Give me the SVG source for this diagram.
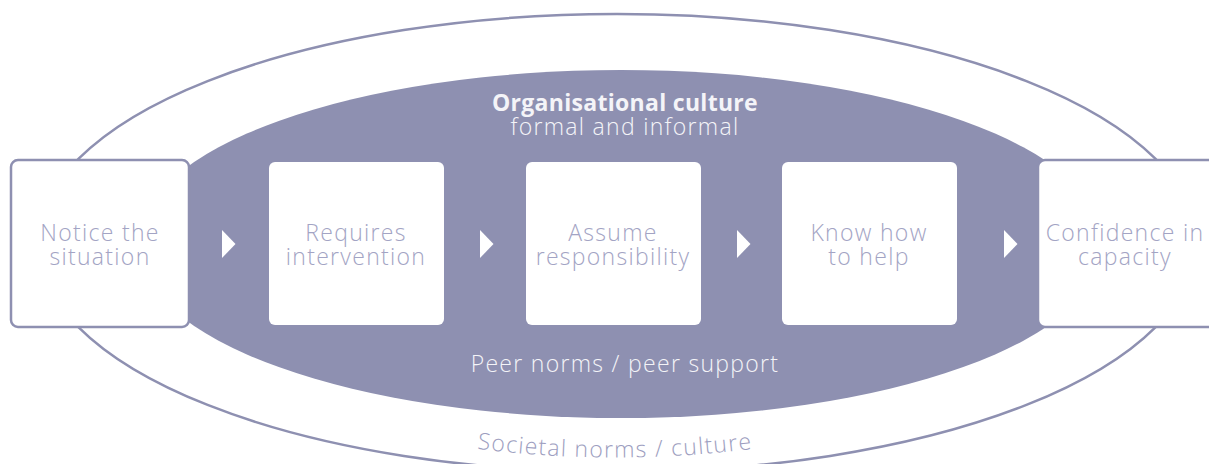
<svg xmlns="http://www.w3.org/2000/svg" width="1209" height="464" viewBox="0 0 1209 464">
  <style>
    .lbl { font-family: "Open Sans", Lato, "Liberation Sans", sans-serif; font-weight: 300; font-size: 23px; fill: #a3a4c4; text-anchor: middle; letter-spacing: 1.3px; }
    .wht { font-family: "Open Sans", Lato, "Liberation Sans", sans-serif; font-size: 23px; fill: #f4f4f8; text-anchor: middle; }
    .light { font-weight: 300; letter-spacing: 1.3px; }
    .bold { font-weight: 700; letter-spacing: 0.3px; }
    .soc { font-family: "Open Sans", Lato, "Liberation Sans", sans-serif; font-weight: 300; font-size: 23px; fill: #9d9ec0; letter-spacing: 1.3px; }
    .boxw { fill: #ffffff; }
    .boxs { fill: #ffffff; stroke: #8e90b1; stroke-width: 2.5; }
    .tri { fill: #ffffff; }
  </style>
  <defs>
    <path id="socArc" d="M 420 440 A 1093 1093 0 0 0 810 440"/>
  </defs>
  <rect width="1209" height="464" fill="#ffffff"/>
  <g id="societal">
    <ellipse cx="617" cy="243" rx="579" ry="229" fill="none" stroke="#8e90b1" stroke-width="2.5"/>
    <text class="soc"><textPath href="#socArc" startOffset="50%" text-anchor="middle">Societal norms / culture</textPath></text>
  </g>
  <g id="organisational">
    <ellipse cx="621" cy="244" rx="484" ry="174" fill="#8e90b1"/>
    <text class="wht" x="625" y="111"><tspan class="bold" x="625" y="111">Organisational culture</tspan><tspan class="light" x="625" y="135">formal and informal</tspan></text>
    <text class="wht light" x="625" y="372">Peer norms / peer support</text>
  </g>
  <g id="connectors">
    <polygon class="tri" points="222,230 235.5,244 222,258"/>
    <polygon class="tri" points="480,230 493.5,244 480,258"/>
    <polygon class="tri" points="737,230 750.5,244 737,258"/>
    <polygon class="tri" points="1004,230 1017.5,244 1004,258"/>
  </g>
  <g id="notice">
    <rect class="boxs" x="11" y="160" width="178" height="167" rx="7"/>
    <text class="lbl"><tspan x="100" y="241">Notice the</tspan><tspan x="100" y="265">situation</tspan></text>
  </g>
  <g id="requires">
    <rect class="boxw" x="269" y="162" width="175" height="163" rx="6"/>
    <text class="lbl"><tspan x="356" y="241">Requires</tspan><tspan x="356" y="265">intervention</tspan></text>
  </g>
  <g id="assume">
    <rect class="boxw" x="526" y="162" width="175" height="163" rx="6"/>
    <text class="lbl"><tspan x="613" y="241">Assume</tspan><tspan x="613" y="265">responsibility</tspan></text>
  </g>
  <g id="knowhow">
    <rect class="boxw" x="782" y="162" width="175" height="163" rx="6"/>
    <text class="lbl"><tspan x="869" y="241">Know how</tspan><tspan x="869" y="265">to help</tspan></text>
  </g>
  <g id="confidence">
    <rect class="boxs" x="1038" y="160" width="185" height="167" rx="7"/>
    <text class="lbl"><tspan x="1125" y="241">Confidence in</tspan><tspan x="1125" y="265">capacity</tspan></text>
  </g>
</svg>
